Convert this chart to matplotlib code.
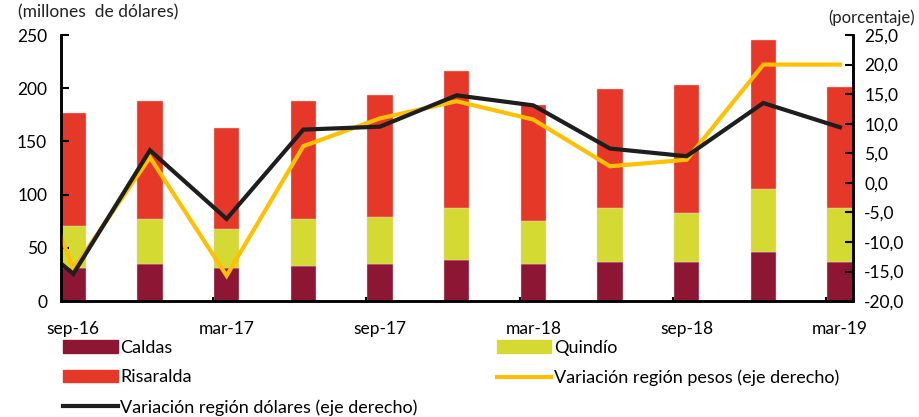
import matplotlib
matplotlib.use('Agg')
import matplotlib.pyplot as plt
from matplotlib.patches import Patch
from matplotlib.lines import Line2D

periodos = ['sep-16', 'dic-16', 'mar-17', 'jun-17', 'sep-17', 'dic-17',
            'mar-18', 'jun-18', 'sep-18', 'dic-18', 'mar-19']
etiquetas_x = ['sep-16', 'mar-17', 'sep-17', 'mar-18', 'sep-18', 'mar-19']

caldas = [31, 35, 31, 33, 35, 39, 35, 37, 37, 46, 37]
quindio = [40, 42, 37, 44, 44, 48, 40.5, 50, 46, 59.5, 50]
risaralda = [106, 111, 95, 111, 115, 129, 108.5, 112, 120, 139.5, 114]

# variacion anual (%), el primer valor es jun-16 (fuera del rango visible)
var_pesos = [19.9, -14.6, 4.3, -15.7, 6.2, 10.9, 13.8, 10.7, 2.8, 3.9, 20.0, 20.0]
var_dolares = [-4.5, -15.4, 5.5, -6.1, 9.0, 9.5, 14.8, 13.1, 5.8, 4.5, 13.5, 9.4]

c_caldas = '#8E1635'
c_quindio = '#D5DA33'
c_risaralda = '#E63828'
c_pesos = '#FFC000'
c_dolares = '#1E1E1E'

plt.rcParams['font.family'] = ['Lato', 'DejaVu Sans']

fig = plt.figure(figsize=(9.19, 4.17), dpi=100)
ax = fig.add_axes([0.0664, 0.278, 0.8618, 0.638])
ax2 = ax.twinx()

x = list(range(len(periodos)))
bottom2 = [a + b for a, b in zip(caldas, quindio)]
w = 0.33
ax.bar(x, caldas, w, color=c_caldas, edgecolor='#f3c9d0', linewidth=0.3)
ax.bar(x, quindio, w, bottom=caldas, color=c_quindio, edgecolor='#f3c9d0', linewidth=0.3)
ax.bar(x, risaralda, w, bottom=bottom2, color=c_risaralda, edgecolor='#f3c9d0', linewidth=0.3)

xl = list(range(-1, len(periodos)))
ax2.plot(xl, var_pesos, color=c_pesos, lw=3, solid_joinstyle='miter')
ax2.plot(xl, var_dolares, color=c_dolares, lw=3, solid_joinstyle='miter')

ax.set_xlim(-0.16, 10.17)
ax.set_ylim(0, 250)
ax.set_yticks(range(0, 251, 50))
ax2.set_ylim(-20, 25)
ax2.set_yticks(range(-20, 26, 5))
ax2.set_yticklabels([f'{v},0' for v in range(-20, 26, 5)])

ax.set_xticks([0, 2, 4, 6, 8, 10])
ax.set_xticklabels(etiquetas_x, fontsize=12.5)
ax.tick_params(axis='x', length=0, pad=14)
ax.set_xticks([i - 0.18 for i in (2, 4, 6, 8, 10)], minor=True)
ax.tick_params(axis='x', which='minor', direction='in', length=3, width=1.5)
ax.tick_params(axis='y', direction='in', length=6, width=1.5, labelsize=12.5, pad=10)
ax2.tick_params(axis='y', direction='in', length=6, width=1.5, labelsize=12.5, pad=8)

for a in (ax, ax2):
    a.spines['top'].set_visible(False)
    for s in ('left', 'right', 'bottom'):
        a.spines[s].set_linewidth(1.8)
        a.spines[s].set_color('black')

fig.text(0.02, 0.97, '(millones  de dólares)', fontsize=12.5, va='center', ha='left', color='#222222')
fig.text(0.996, 0.958, '(porcentaje)', fontsize=12, va='center', ha='right', color='#222222')

handles = [
    Patch(color=c_caldas, label='Caldas'),
    Patch(color=c_risaralda, label='Risaralda'),
    Line2D([], [], color=c_dolares, lw=3, label='Variación región dólares (eje derecho)'),
    Patch(color=c_quindio, label='Quindío'),
    Line2D([], [], color=c_pesos, lw=3, label='Variación región pesos (eje derecho)'),
]
fig.legend(handles=handles, ncol=2, loc='upper left', bbox_to_anchor=(0.069, 0.185),
           frameon=False, prop={'size': 13},
           handlelength=3.0, handleheight=0.7, handletextpad=0.15,
           columnspacing=4.4, labelspacing=0.75, borderaxespad=0, borderpad=0)

fig.savefig('out.png', dpi=100)
